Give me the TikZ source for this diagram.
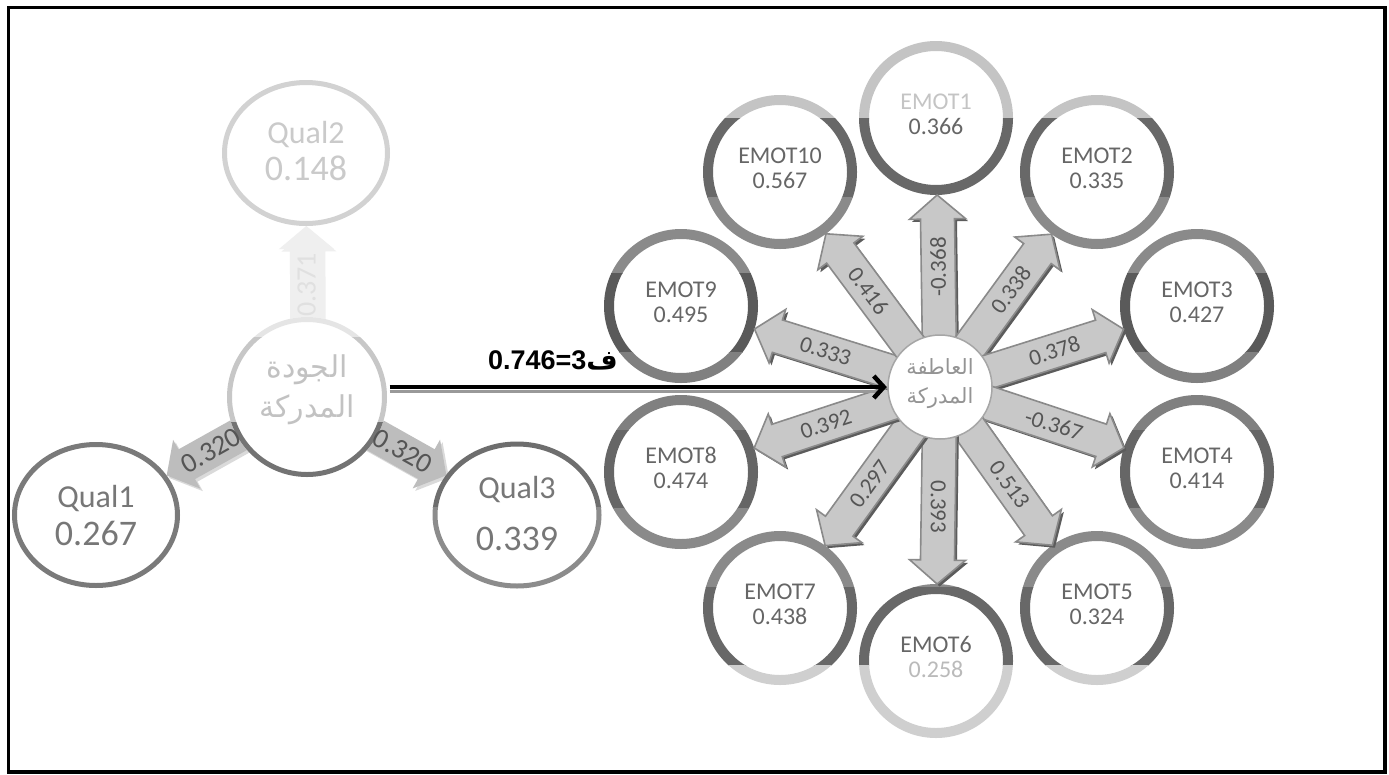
\documentclass[tikz,border=0pt]{standalone}
\usepackage{fontspec}
\setmainfont{Carlito}
\newfontfamily\arabicfont[Script=Arabic]{DejaVu Sans}
\newfontfamily\boldsans{Liberation Sans}
\TeXXeTstate=1
\usetikzlibrary{calc,arrows.meta}
\definecolor{bandA}{HTML}{C4C4C4}
\definecolor{bandB}{HTML}{686868}
\definecolor{bandC}{HTML}{8A8A8A}
\definecolor{bandD}{HTML}{5A5A5A}
\definecolor{bandE}{HTML}{808080}
\definecolor{bandF}{HTML}{666666}
\definecolor{bandG}{HTML}{8A8A8A}
\definecolor{bandH}{HTML}{686868}
\definecolor{bandI}{HTML}{CFCFCF}
\definecolor{etxt}{HTML}{666666}
\definecolor{albltxt}{HTML}{555555}
\definecolor{arrfill}{HTML}{C8C8C8}
\definecolor{arredge}{HTML}{8A8A8A}
\definecolor{arrshadow}{HTML}{5C5C5C}
\definecolor{qfill}{HTML}{BDBDBD}
\definecolor{qring}{HTML}{7A7A7A}
\definecolor{qtxt}{HTML}{777777}
\definecolor{qlight}{HTML}{D2D2D2}
\definecolor{qlighttxt}{HTML}{CACACA}
\definecolor{upfill}{HTML}{EFEFEF}

% #1 from, #2 to, #3 tip distance from target centre, #4 shaft half width,
% #5 head half width, #6 head length, #7 body style, #8 shadow style
\newcommand\blockarrow[8]{%
  \coordinate (bT) at ($(#2)!#3!(#1)$);
  \coordinate (bB) at ($(bT)!#6!(#1)$);
  \coordinate (bS1) at ($(#1)!#4!90:(bT)$);
  \coordinate (bS2) at ($(bB)!#4!90:(bT)$);
  \coordinate (bH1) at ($(bB)!#5!90:(bT)$);
  \coordinate (bH2) at ($(bB)!#5!-90:(bT)$);
  \coordinate (bS3) at ($(bB)!#4!-90:(bT)$);
  \coordinate (bS4) at ($(#1)!#4!-90:(bT)$);
  \begin{scope}[transform canvas={shift={(2.5pt,-2.5pt)}}]
    \path[#8] (bS1) -- (bS2) -- (bH1) -- (bT) -- (bH2) -- (bS3) -- (bS4) -- cycle;
  \end{scope}
  \path[#7] (bS1) -- (bS2) -- (bH1) -- (bT) -- (bH2) -- (bS3) -- (bS4) -- cycle;
}

\begin{document}
\begin{tikzpicture}[x=1pt,y=-1pt,
  etext/.style={font=\fontsize{24}{25}\selectfont, text=etxt, anchor=base, inner sep=0pt},
  albl/.style={font=\fontsize{23}{23}\selectfont, text=albltxt, inner sep=0pt},
  qlbl/.style={font=\fontsize{28}{28}\selectfont, text=albltxt, inner sep=0pt},
  rbody/.style={fill=arrfill, draw=arredge, line width=1.6pt},
  rshadow/.style={fill=arrshadow},
  qbody/.style={fill=qfill},
  qshadow/.style={fill=qfill!80!black, opacity=0.35},
  upbody/.style={fill=upfill},
  upshadow/.style={fill=upfill},
  qname/.style={font=\fontsize{32}{32}\selectfont, anchor=base, inner sep=0pt},
  qval/.style={font=\fontsize{36}{36}\selectfont, anchor=base, inner sep=0pt},
  hubcircle/.style={circle, inner sep=0pt},
]
\path[use as bounding box] (0,0) rectangle (1389,774);
\fill[white] (0,0) rectangle (1389,774);

% ---------------- right group: centres ----------------
\node[hubcircle, minimum size=106pt] (hR) at (940,387) {};
\coordinate (e1) at (936,118);
\coordinate (e2) at (1097,172);
\coordinate (e3) at (1197,306);
\coordinate (e4) at (1197,472);
\coordinate (e5) at (1097,608);
\coordinate (e6) at (936,661);
\coordinate (e7) at (780,608);
\coordinate (e8) at (681,472);
\coordinate (e9) at (681,306);
\coordinate (e10) at (780,172);

% rings, coloured by horizontal bands
\foreach \ya/\yb/\c in {0/118/bandA,118/197/bandB,197/273/bandC,273/352/bandD,352/430/bandE,430/508/bandF,508/587/bandG,587/665/bandH,665/774/bandI}{
  \begin{scope}
    \clip (560,\ya) rectangle (1389,\yb);
    \foreach \n in {e1,e2,e3,e4,e5,e6,e7,e8,e9,e10}
      \draw[\c, line width=10pt] (\n) circle[radius=72];
  \end{scope}
}

% block arrows
\foreach \n in {e1,e2,e3,e4,e5,e6,e7,e8,e9,e10}{
  \blockarrow{hR}{\n}{77pt}{17pt}{28pt}{24pt}{rbody}{rshadow}
}

% hub
\draw[fill=white, draw=gray!70, line width=1.5pt] (hR) circle[radius=52];
\node[font=\arabicfont\fontsize{21}{21}\selectfont, text=black!42, inner sep=0pt] (hRt1) at (940,367) {\beginR العاطفة\endR};
\node[font=\arabicfont\fontsize{21}{21}\selectfont, text=black!42, inner sep=0pt] (hRt2) at (940,398) {\beginR المدركة\endR};

% arrow labels
\node[albl, rotate=90]    (l1)  at ($(hR)!120pt!(e1)$)  {-0.368};
\node[albl, rotate=53.9]  (l2)  at ($(hR)!120pt!(e2)$)  {0.338};
\node[albl, rotate=17.5]  (l3)  at ($(hR)!120pt!(e3)$)  {0.378};
\node[albl, rotate=-17.5] (l4)  at ($(hR)!120pt!(e4)$)  {-0.367};
\node[albl, rotate=-53.9] (l5)  at ($(hR)!120pt!(e5)$)  {0.513};
\node[albl, rotate=-90]   (l6)  at ($(hR)!120pt!(e6)$)  {0.393};
\node[albl, rotate=54.1]  (l7)  at ($(hR)!120pt!(e7)$)  {0.297};
\node[albl, rotate=18.2]  (l8)  at ($(hR)!120pt!(e8)$)  {0.392};
\node[albl, rotate=-17.4] (l9)  at ($(hR)!120pt!(e9)$)  {0.333};
\node[albl, rotate=-53.3] (l10) at ($(hR)!120pt!(e10)$) {0.416};

% EMOT texts
\node[etext, text=bandA] (t1a) at (936,109) {EMOT1};
\node[etext] (t1b) at (936,134) {0.366};
\node[etext] (t2a) at (1097,163) {EMOT2};
\node[etext] (t2b) at (1097,188) {0.335};
\node[etext] (t3a) at (1197,297) {EMOT3};
\node[etext] (t3b) at (1197,322) {0.427};
\node[etext] (t4a) at (1197,463) {EMOT4};
\node[etext] (t4b) at (1197,488) {0.414};
\node[etext] (t5a) at (1097,599) {EMOT5};
\node[etext] (t5b) at (1097,624) {0.324};
\node[etext] (t6a) at (936,652) {EMOT6};
\node[etext, text=bandI!90!black] (t6b) at (936,677) {0.258};
\node[etext] (t7a) at (780,599) {EMOT7};
\node[etext] (t7b) at (780,624) {0.438};
\node[etext] (t8a) at (681,463) {EMOT8};
\node[etext] (t8b) at (681,488) {0.474};
\node[etext] (t9a) at (681,297) {EMOT9};
\node[etext] (t9b) at (681,322) {0.495};
\node[etext] (t10a) at (780,163) {EMOT10};
\node[etext] (t10b) at (780,188) {0.567};

% ---------------- left group ----------------
\node[hubcircle, minimum size=165pt] (hL) at (307,397) {};
\coordinate (q1) at (96,515);
\coordinate (q2) at (306,153);
\coordinate (q3) at (517,515);

\blockarrow{hL}{q2}{73pt}{16.5pt}{27.5pt}{23pt}{upbody}{upshadow}
\blockarrow{hL}{q1}{81pt}{17pt}{28pt}{23pt}{qbody}{qshadow}
\blockarrow{hL}{q3}{81pt}{17pt}{28pt}{23pt}{qbody}{qshadow}

\draw[qlight, line width=5pt] (q2) ellipse[x radius=81.5, y radius=70.5];
\draw[qring, line width=5pt] (q1) ellipse[x radius=81.5, y radius=70.5];
\begin{scope}
  \clip (400,420) rectangle (620,507);
  \draw[black!57, line width=5pt] (q3) ellipse[x radius=82, y radius=71];
\end{scope}
\begin{scope}
  \clip (400,507) rectangle (620,600);
  \draw[black!45, line width=5pt] (q3) ellipse[x radius=82, y radius=71];
\end{scope}

% left hub ring
\fill[white] (hL) circle[radius=80];
\foreach \ya/\yb/\c in {300/337/black!10,337/422/black!22,422/490/black!55}{
  \begin{scope}
    \clip (200,\ya) rectangle (420,\yb);
    \draw[\c, line width=5pt] (hL) circle[radius=77.5];
  \end{scope}
}
\node[font=\arabicfont\fontsize{30}{30}\selectfont, text=black!24, inner sep=0pt] (hLt1) at (307,370) {\beginR الجودة\endR};
\node[font=\arabicfont\fontsize{30}{30}\selectfont, text=black!24, inner sep=0pt] (hLt2) at (307,410) {\beginR المدركة\endR};

% left labels
\node[qlbl, rotate=90, text=black!12] (lq2) at ($(hL)!112pt!(q2)$) {0.371};
\node[qlbl, rotate=29.2] (lq1) at ($(hL)!110pt!(q1)$) {0.320};
\node[qlbl, rotate=-29.2] (lq3) at ($(hL)!110pt!(q3)$) {0.320};

% qual texts
\node[qname, text=qlighttxt] (q2a) at (306,143) {Qual2};
\node[qval, text=qlighttxt] (q2b) at (306,180) {0.148};
\node[qname, text=qtxt] (q1a) at (96,507) {Qual1};
\node[qval, text=qtxt] (q1b) at (96,545) {0.267};
\node[qname, text=qtxt] (q3a) at (517,498) {Qual3};
\node[qval, text=qtxt] (q3b) at (517,550) {0.339};

% ---------------- main path ----------------
\draw[black!40, line width=3pt] ([yshift=-4pt]hL.east |- hR) -- ([yshift=-4pt,xshift=-8pt]hR.west);
\draw[black, line width=4.5pt, -{Straight Barb[length=10pt,width=22pt]}] (hL.east |- hR) -- (hR);
\node[inner sep=0pt] (pathlbl) at (553,360) {\boldsans\bfseries\fontsize{27}{27}\selectfont 0.746=3{\arabicfont\bfseries ف}};

% frame
\draw[black, line width=3.5pt] (8.5,7.5) rectangle (1385,772);
\end{tikzpicture}
\end{document}
